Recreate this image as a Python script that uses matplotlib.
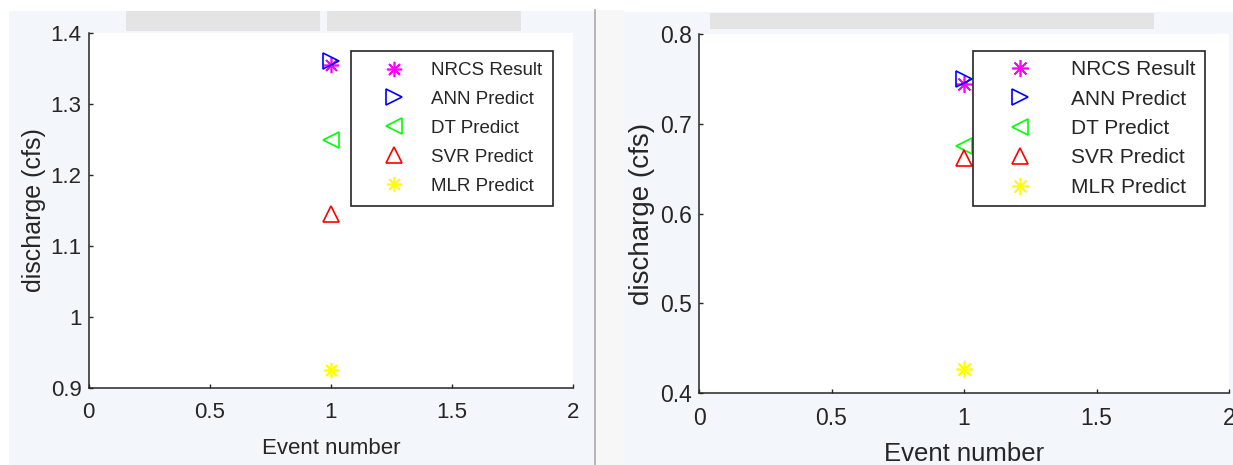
import matplotlib
matplotlib.use("Agg")
import matplotlib.pyplot as plt
from matplotlib.patches import Rectangle
from matplotlib.lines import Line2D

plt.rcParams['font.family'] = ['Liberation Sans', 'DejaVu Sans']

W, H = 1233, 465

# data
event = [1]
models = ['NRCS Result', 'ANN Predict', 'DT Predict', 'SVR Predict', 'MLR Predict']
left_vals = [1.355, 1.360, 1.250, 1.145, 0.926]
right_vals = [0.744, 0.750, 0.675, 0.662, 0.427]

colors = ['#ff00ff', '#0000ff', '#00ff00', '#ff0000', '#ffff00']
markers = [(8, 2, 0), '>', '<', '^', (8, 2, 0)]

txt = '#262626'


def px_rect(fig, x0, y0, x1, y1, color, z=0):
    # rectangle given in image pixels (top-left origin)
    r = Rectangle((x0 / W, 1 - y1 / H), (x1 - x0) / W, (y1 - y0) / H,
                  transform=fig.transFigure, facecolor=color, edgecolor='none', zorder=z)
    fig.add_artist(r)


def px_axes(fig, x0, y0, x1, y1):
    return fig.add_axes([x0 / W, 1 - y1 / H, (x1 - x0) / W, (y1 - y0) / H])


fig = plt.figure(figsize=(W / 100, H / 100), dpi=100)
fig.patch.set_facecolor('white')

# window backgrounds
px_rect(fig, 9, 11, 594, H, '#f3f6fb')
px_rect(fig, 596, 10, 624, H, '#f7f7f7')
px_rect(fig, 624, 12, W, H, '#f3f6fb')
fig.add_artist(Line2D([594.5 / W, 594.5 / W], [0, 1 - 10 / H], transform=fig.transFigure,
                      color='#a8a8a8', lw=1.2))
# grey tab bars on top
px_rect(fig, 126, 11, 320, 31, '#e4e4e4', 1)
px_rect(fig, 327, 11, 521, 31, '#e4e4e4', 1)
px_rect(fig, 710, 13, 1154, 29, '#e4e4e4', 1)


def draw(ax, vals, ylim, yticks, fs_tick, fs_xlab, fs_ylab, fs_leg, leg_anchor, ms,
         xpad, xlabpad, ylabpad, hl, htp, ls, bp):
    ax.set_facecolor('white')
    for v, c, m, name in zip(vals, colors, markers, models):
        ax.plot(event, [v], linestyle='none', marker=m, markersize=ms,
                markerfacecolor='none', markeredgecolor=c, markeredgewidth=1.2,
                label=name)
    ax.set_xlim(0, 2)
    ax.set_ylim(*ylim)
    ax.set_xticks([0, 0.5, 1, 1.5, 2])
    ax.set_xticklabels(['0', '0.5', '1', '1.5', '2'])
    ax.set_yticks(yticks)
    ax.set_yticklabels([f'{t:g}' for t in yticks])
    for s in ['top', 'right']:
        ax.spines[s].set_visible(False)
    for s in ['left', 'bottom']:
        ax.spines[s].set_color(txt)
        ax.spines[s].set_linewidth(1.1)
    ax.tick_params(direction='in', length=3, width=1, colors=txt, labelsize=fs_tick)
    ax.tick_params(axis='x', pad=xpad)
    ax.tick_params(axis='y', pad=5)
    ax.set_xlabel('Event number', fontsize=fs_xlab, color=txt, labelpad=xlabpad)
    ax.set_ylabel('discharge (cfs)', fontsize=fs_ylab, color=txt, labelpad=ylabpad)
    leg = ax.legend(loc='upper right', bbox_to_anchor=leg_anchor, borderaxespad=0,
                    fontsize=fs_leg, frameon=True, fancybox=False, framealpha=1,
                    edgecolor='#262626', handlelength=hl, handletextpad=htp,
                    labelspacing=ls, borderpad=bp)
    leg.get_frame().set_linewidth(1.2)
    for t in leg.get_texts():
        t.set_color(txt)
    return ax


ax1 = px_axes(fig, 88.5, 33, 573, 388)
draw(ax1, left_vals, (0.9, 1.4), [0.9, 1.0, 1.1, 1.2, 1.3, 1.4], 16, 16, 18, 13.5,
     (0.959, 0.949), 11, 10, 11, 3, 3.4, 0.3, 0.63, 0.58)

ax2 = px_axes(fig, 699, 34, 1229, 393)
draw(ax2, right_vals, (0.4, 0.8), [0.4, 0.5, 0.6, 0.7, 0.8], 16.5, 18.5, 20, 15,
     (0.955, 0.953), 12, 10, 9, 4, 3.6, 0.65, 0.5, 0.45)

fig.savefig('out.png', dpi=100, facecolor=fig.get_facecolor())
